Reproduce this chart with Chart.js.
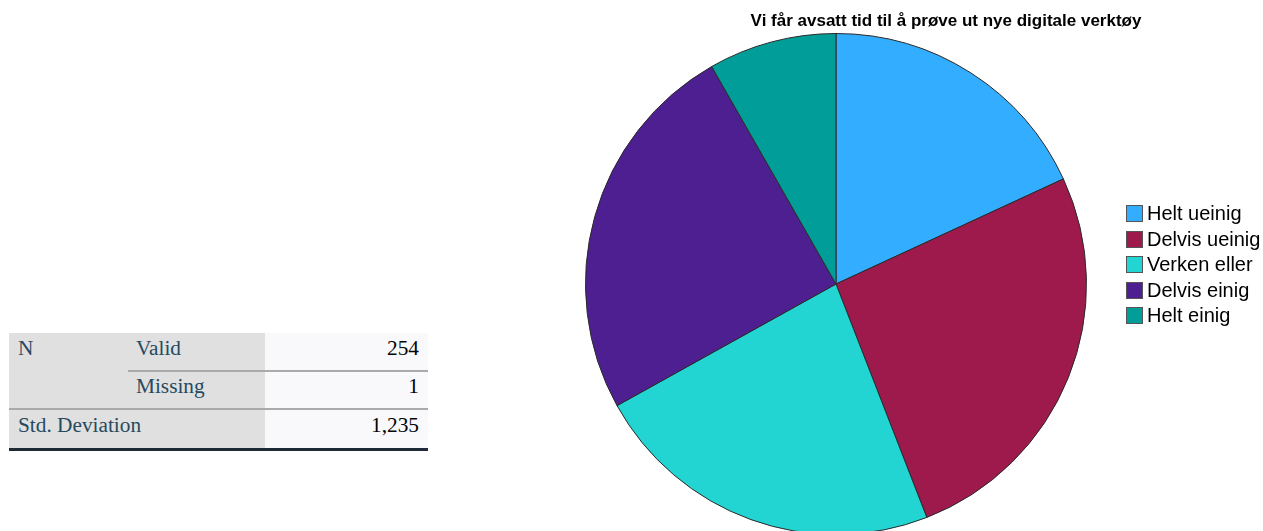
<!DOCTYPE html>
<html>
<head>
<meta charset="utf-8">
<script src="https://cdn.jsdelivr.net/npm/chart.js@4.4.1/dist/chart.umd.min.js"></script>
<style>
  html, body { margin: 0; padding: 0; background: #fff; overflow: hidden; width: 1263px; height: 531px; }
  #pieCanvas { position: absolute; left: 0; top: 0; }
  #title { position: absolute; left: 700px; width: 492px; top: 11px; text-align: center;
    font: bold 17px "Liberation Sans", Arial, sans-serif; color: #000; }
  #legend { position: absolute; left: 1126px; top: 201px; font: 20px "Liberation Sans", Arial, sans-serif; color: #000; }
  .lg-item { height: 25.5px; display: flex; align-items: center; white-space: nowrap; }
  .lg-box { width: 15px; height: 15px; border: 1px solid #555; margin-right: 4px; }
  .stats { position: absolute; font-family: "Liberation Serif", "Times New Roman", serif; font-size: 21.3px; }
  .cell { position: absolute; box-sizing: border-box; }
  .lbl { color: #264a60; }
  .val { color: #010205; text-align: right; }
</style>
</head>
<body>
<div id="stats" class="stats"></div>
<canvas id="pieCanvas" width="1263" height="570"></canvas>
<div id="title"></div>
<div id="legend"></div>
<script>
const chartTitle = "Vi får avsatt tid til å prøve ut nye digitale verktøy";
const categories = ["Helt ueinig", "Delvis ueinig", "Verken eller", "Delvis einig", "Helt einig"];
const counts = [46, 66, 58, 63, 21];
const sliceColors = ["#33adff", "#9e1a4d", "#22d5d2", "#4e1f91", "#019e99"];

const statRowLabels = ["Valid", "Missing", "Std. Deviation"];
const validN = "254";
const missingN = "1";
const stdDeviation = "1,235";

function buildStatsTable() {
  const el = document.getElementById("stats");
  const add = (cls, left, top, width, height, text, bg) => {
    const d = document.createElement("div");
    d.className = "cell " + cls;
    d.style.cssText = `left:${left}px;top:${top}px;width:${width}px;height:${height}px;background:${bg};`;
    if (text !== null) d.textContent = text;
    el.appendChild(d);
    return d;
  };
  // backgrounds
  add("", 9, 333, 256, 116, null, "#e0e0e0");
  add("", 265, 333, 163, 116, null, "#f9f9fb");
  // separators
  add("", 128, 370, 300, 2, null, "#aaaaaa");
  add("", 9, 408, 419, 2, null, "#aaaaaa");
  add("", 9, 448, 419, 3, null, "#1f2a36");
  // texts
  add("lbl", 18, 336, 100, 30, "N", "transparent");
  add("lbl", 136, 336, 120, 30, statRowLabels[0], "transparent");
  add("lbl", 136, 374, 120, 30, statRowLabels[1], "transparent");
  add("lbl", 18, 413, 240, 30, statRowLabels[2], "transparent");
  add("val", 265, 336, 154, 30, validN, "transparent");
  add("val", 265, 374, 154, 30, missingN, "transparent");
  add("val", 265, 413, 154, 30, stdDeviation, "transparent");
}

function buildLegend() {
  const legend = document.getElementById("legend");
  categories.forEach((name, i) => {
    const item = document.createElement("div");
    item.className = "lg-item";
    const box = document.createElement("span");
    box.className = "lg-box";
    box.style.background = sliceColors[i];
    const txt = document.createElement("span");
    txt.textContent = name;
    item.appendChild(box);
    item.appendChild(txt);
    legend.appendChild(item);
  });
}

function initPieChart() {
  const ctx = document.getElementById("pieCanvas");
  if (!ctx) return console.error("pieCanvas not found");
  new Chart(ctx.getContext("2d"), {
    type: "pie",
    data: {
      labels: categories,
      datasets: [{
        data: counts,
        backgroundColor: sliceColors,
        borderColor: "#2a2a2a",
        borderWidth: 1
      }]
    },
    options: {
      responsive: false,
      animation: false,
      layout: { padding: { left: 585, top: 33, right: 176, bottom: 35 } },
      plugins: {
        legend: { display: false },
        title: { display: false },
        tooltip: { enabled: false }
      }
    }
  });
}

document.getElementById("title").textContent = chartTitle;
buildStatsTable();
buildLegend();
initPieChart();
</script>
</body>
</html>
